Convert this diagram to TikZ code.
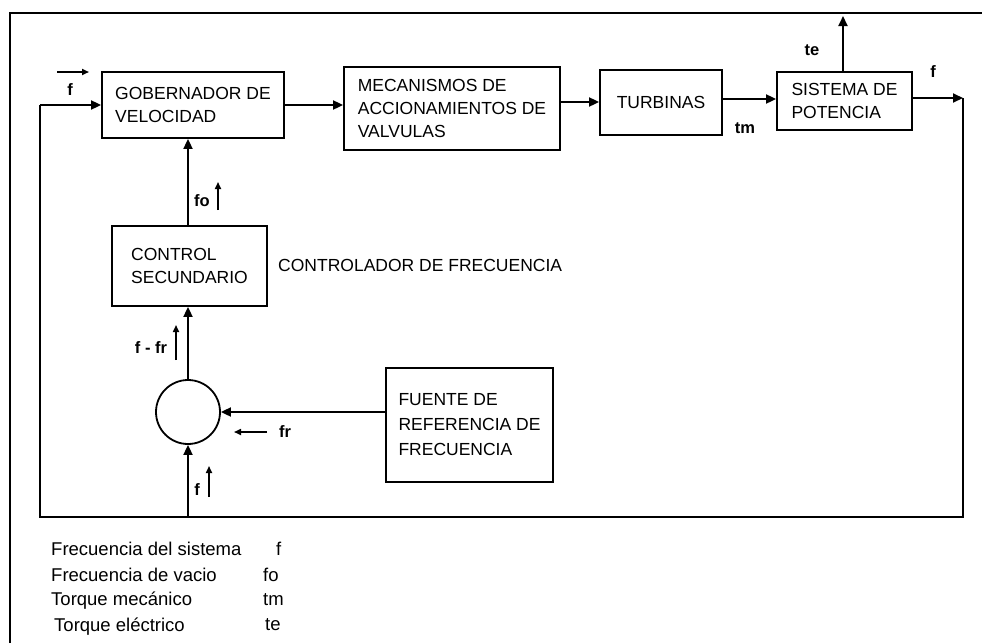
\documentclass[tikz,border=0pt]{standalone}
\usepackage{fontspec}
\setmainfont{Liberation Sans}
\usetikzlibrary{arrows.meta}
\begin{document}
\begin{tikzpicture}[x=1pt,y=-1pt,
  box/.style={draw,line width=1.8pt,align=left,inner sep=0pt,font=\fontsize{17.5}{23}\selectfont},
  lbl/.style={font=\bfseries\fontsize{16.5}{18}\selectfont,inner sep=0pt},
  leg/.style={font=\fontsize{18.5}{20}\selectfont,inner sep=0pt,anchor=west},
  plain/.style={font=\fontsize{17.5}{20}\selectfont,inner sep=0pt,anchor=west},
  conn/.style={line width=1.8pt,-{Triangle[length=10pt,width=9pt]}},
  wire/.style={line width=1.8pt},
  tiny/.style={line width=1.6pt,-{Triangle[length=7pt,width=6pt]}}]
\useasboundingbox (0,0) rectangle (982,643);
% outer frame
\draw[line width=2pt] (10,643) -- (10,13) -- (982,13);

% blocks
\node[box,minimum width=182pt,minimum height=66pt] (gob) at (193,105) {GOBERNADOR DE\\VELOCIDAD};
\node[box,minimum width=216pt,minimum height=83pt] (mec) at (452,108.5) {MECANISMOS DE\\ACCIONAMIENTOS DE\\VALVULAS};
\node[box,minimum width=122pt,minimum height=65pt] (tur) at (661,102.5) {TURBINAS};
\node[box,minimum width=135pt,minimum height=58pt] (sis) at (844.5,101) {SISTEMA DE\\POTENCIA};
\node[box,minimum width=155pt,minimum height=80pt] (ctl) at (189.5,266) {CONTROL\\SECUNDARIO};
\node[box,minimum width=167pt,minimum height=114pt,font=\fontsize{17.5}{25}\selectfont] (fue) at (469.5,425) {FUENTE DE\\REFERENCIA DE\\FRECUENCIA};
\node[draw,circle,line width=1.8pt,minimum size=64pt,inner sep=0pt] (sum) at (188,412) {};
\node[plain] (ctltxt) at (278,265) {CONTROLADOR DE FRECUENCIA};

% coordinates of the loop
\coordinate (fR) at (963,98);
\coordinate (bR) at (963,517);
\coordinate (bL) at (40,517);
\coordinate (bM) at (188,517);
\coordinate (tL) at (40,105);
\coordinate (teEnd) at (843,16);

% connectors
\draw[conn] (gob.east) -- (gob.east -| mec.west);
\draw[conn] (mec.east |- 0,102) -- (tur.west |- 0,102);
\draw[conn] (tur.east |- 0,99) -- (sis.west |- 0,99);
\draw[conn] (sis.east |- fR) -- (fR);
\draw[conn] (sis.north -| teEnd) -- (teEnd);
\draw[wire] (fR) -- (bR) -- (bL) -- (tL);
\draw[conn] (tL) -- (gob.west |- tL);
\draw[conn] (ctl.north -| sum) -- (gob.south -| sum);
\draw[conn] (sum.north) -- (ctl.south -| sum);
\draw[conn] (bM) -- (sum.south);
\draw[conn] (sum.east -| fue.west) -- (sum.east);

% signal labels
\node[lbl] (lf1) at (70,90) {f};
\node[lbl] (lf2) at (933,72) {f};
\node[lbl] (lte) at (812,50) {te};
\node[lbl] (ltm) at (745,128) {tm};
\node[lbl] (lfo) at (202,201) {fo};
\node[lbl] (lffr) at (151,348) {f - fr};
\node[lbl] (lfr) at (285,432) {fr};
\node[lbl] (lf3) at (197,490) {f};

% small direction arrows
\coordinate (a1s) at (57,72);  \coordinate (a1e) at (89,72);
\coordinate (a2s) at (218,210); \coordinate (a2e) at (218,182);
\coordinate (a3s) at (176,360); \coordinate (a3e) at (176,325);
\coordinate (a4s) at (267,432); \coordinate (a4e) at (234,432);
\coordinate (a5s) at (209,497); \coordinate (a5e) at (209,466);
\draw[tiny] (a1s) -- (a1e);
\draw[tiny] (a2s) -- (a2e);
\draw[tiny] (a3s) -- (a3e);
\draw[tiny] (a4s) -- (a4e);
\draw[tiny] (a5s) -- (a5e);

% legend
\node[leg] (g1) at (51,549) {Frecuencia del sistema};
\node[leg] (g2) at (51,575) {Frecuencia de vacio};
\node[leg] (g3) at (51,601) {Torque mecánico};
\node[leg] (g4) at (54,627) {Torque eléctrico};
\node[leg] (s1) at (276,549) {f};
\node[leg] (s2) at (263,575) {fo};
\node[leg] (s3) at (263,600) {tm};
\node[leg] (s4) at (265,625) {te};
\end{tikzpicture}
\end{document}
